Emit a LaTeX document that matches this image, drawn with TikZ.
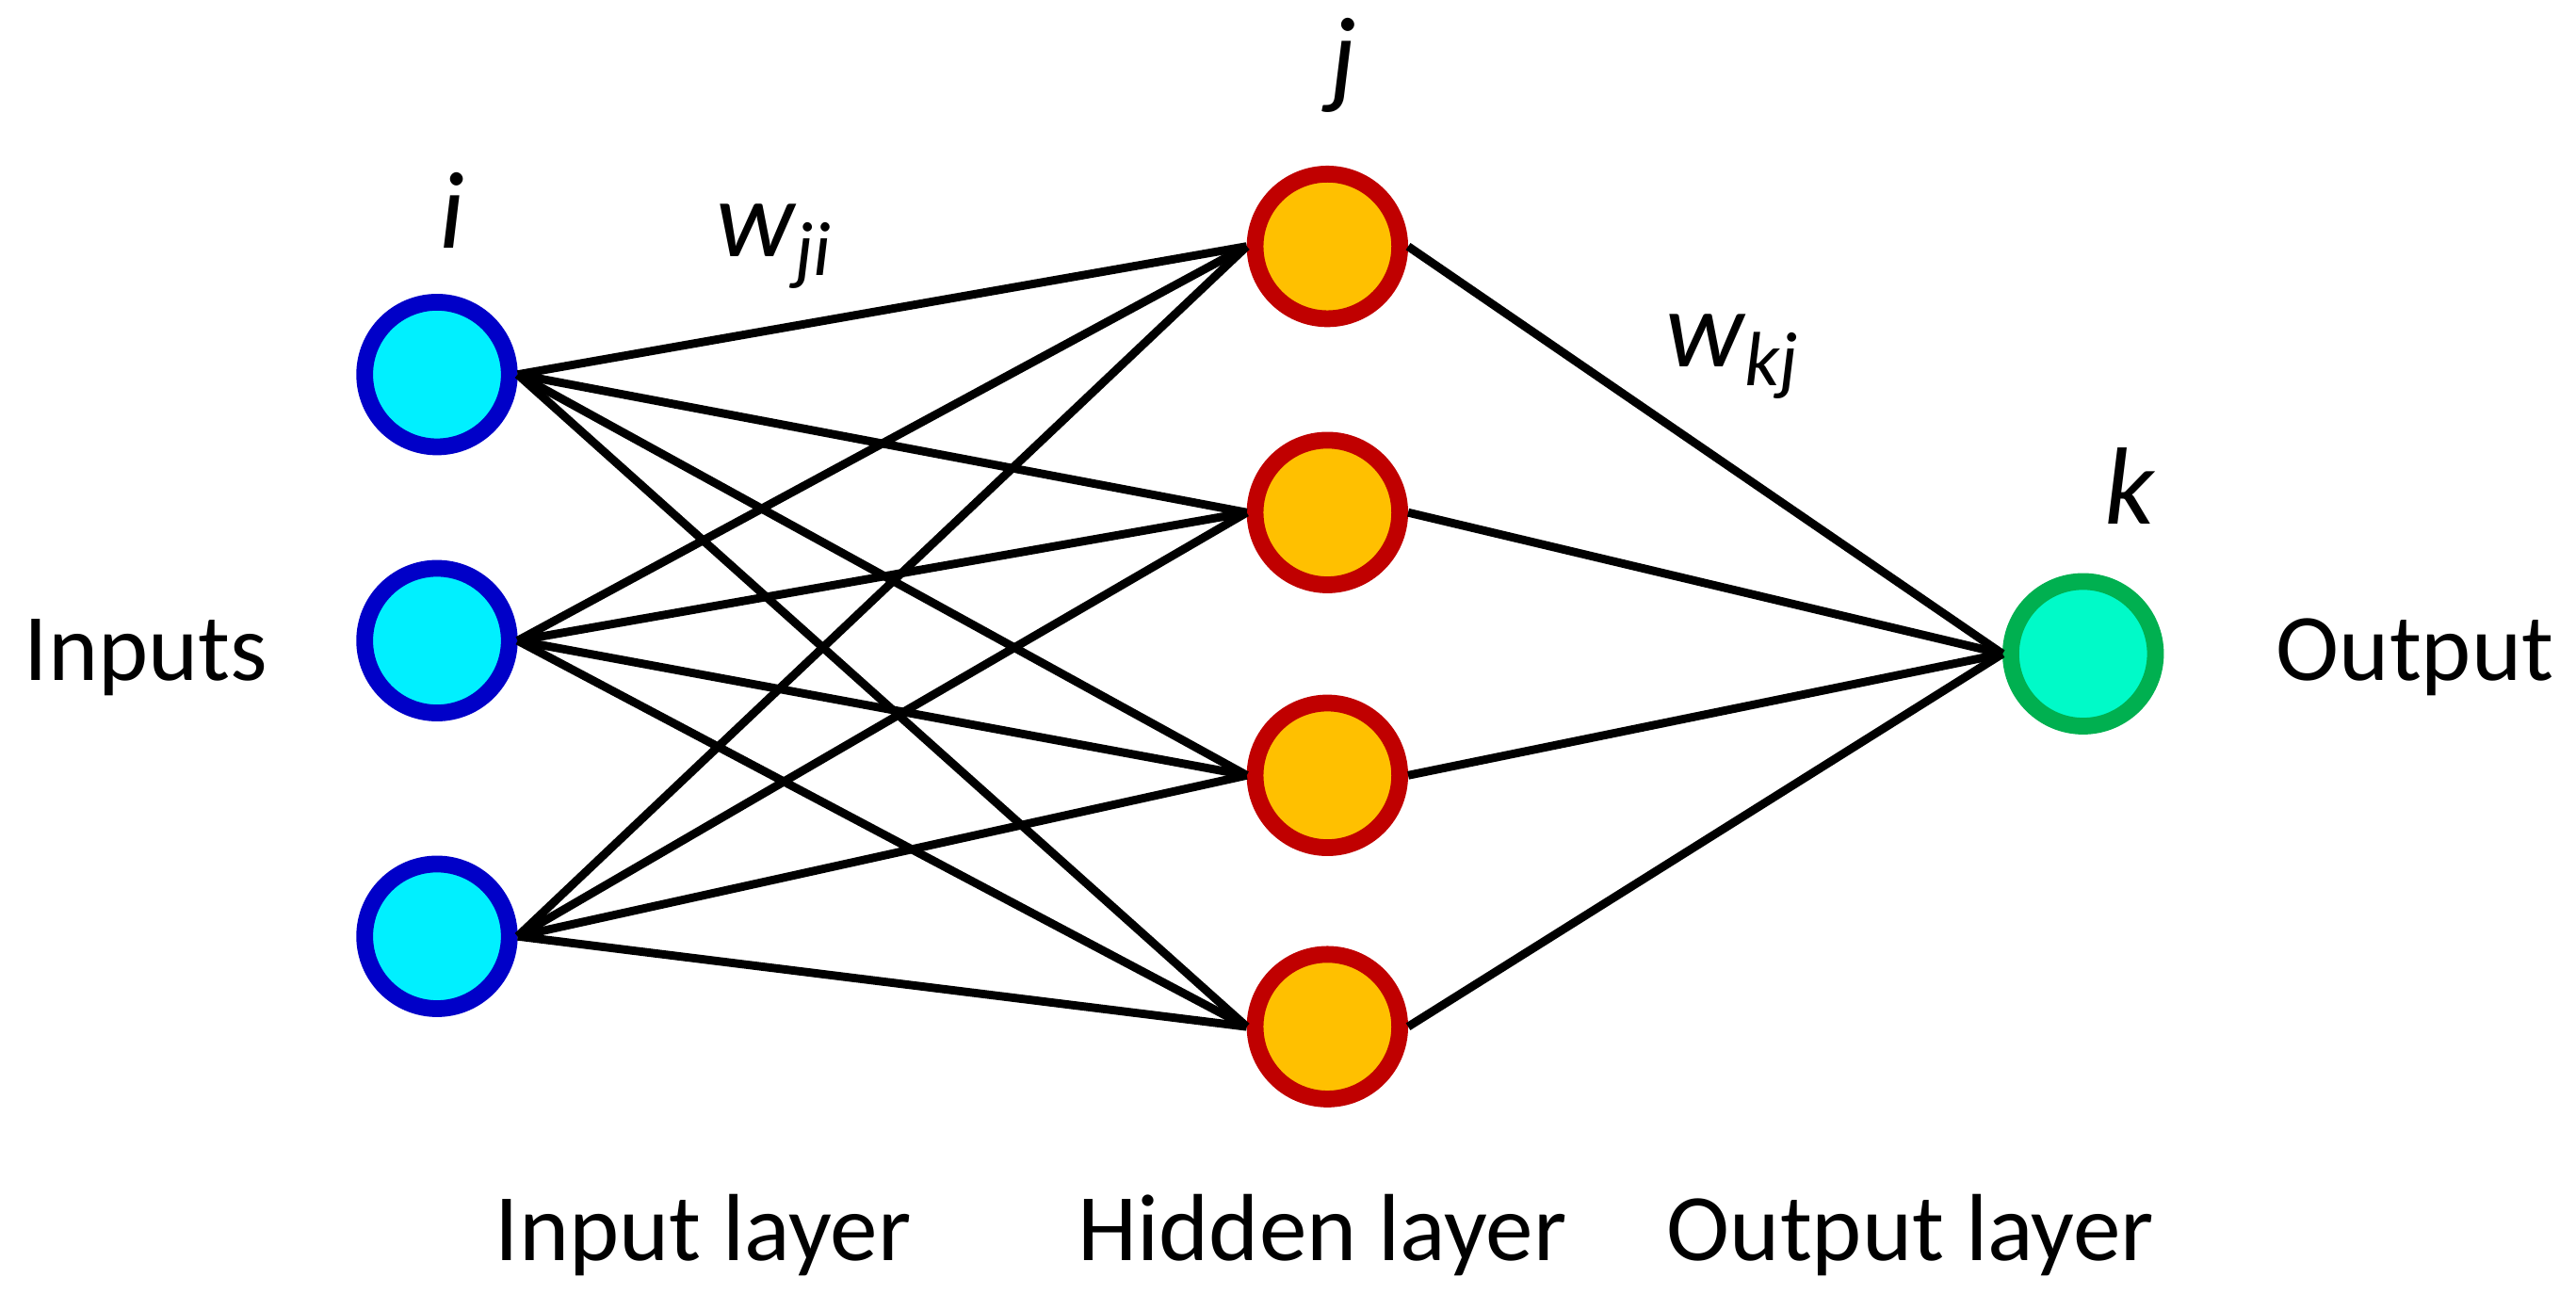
\documentclass[tikz,border=0pt]{standalone}
\usepackage{fontspec}
\setmainfont{Carlito}
\begin{document}
\begin{tikzpicture}[x=0.01cm,y=-0.01cm,
  neuron/.style={circle,line width=2.9pt,minimum size=0.88cm,inner sep=0pt},
  inp/.style={neuron,draw={rgb,255:red,0;green,0;blue,200},fill={rgb,255:red,0;green,240;blue,255}},
  hid/.style={neuron,draw={rgb,255:red,192;green,0;blue,0},fill={rgb,255:red,255;green,192;blue,0}},
  outn/.style={neuron,draw={rgb,255:red,0;green,176;blue,80},fill={rgb,255:red,0;green,250;blue,200}},
  edge/.style={line width=1.45pt,black},
  lbl/.style={font=\fontsize{16.5}{19}\selectfont},
  ilbl/.style={font=\fontsize{19}{21}\selectfont\itshape}]
\useasboundingbox (0,0) rectangle (1568,797);
\node[inp] (i1) at (266,228) {};
\node[inp] (i2) at (266,390) {};
\node[inp] (i3) at (266,570) {};
\node[hid] (h1) at (808,150) {};
\node[hid] (h2) at (808,312) {};
\node[hid] (h3) at (808,472) {};
\node[hid] (h4) at (808,625) {};
\node[outn] (o) at (1268,398) {};
\foreach \i in {1,2,3}{\foreach \h in {1,2,3,4}{\draw[edge] (i\i.east) -- (h\h.west);}}
\foreach \h in {1,2,3,4}{\draw[edge] (h\h.east) -- (o.west);}
\node[lbl] (tin) at (89,400) {Inputs};
\node[lbl] (tout) at (1470,400) {Output};
\node[lbl] (l1) at (428,752) {Input layer};
\node[lbl] (l2) at (805,752) {Hidden layer};
\node[lbl] (l3) at (1163,752) {Output layer};
\node[ilbl] (ti) at (275,128) {i};
\node[ilbl] (tj) at (818,40) {j};
\node[ilbl] (tk) at (1296,296) {k};
\node[ilbl] (wji) at (472,150) {w\textsubscript{\itshape ji}};
\node[ilbl] (wkj) at (1055,217) {w\textsubscript{\itshape kj}};
\end{tikzpicture}
\end{document}
